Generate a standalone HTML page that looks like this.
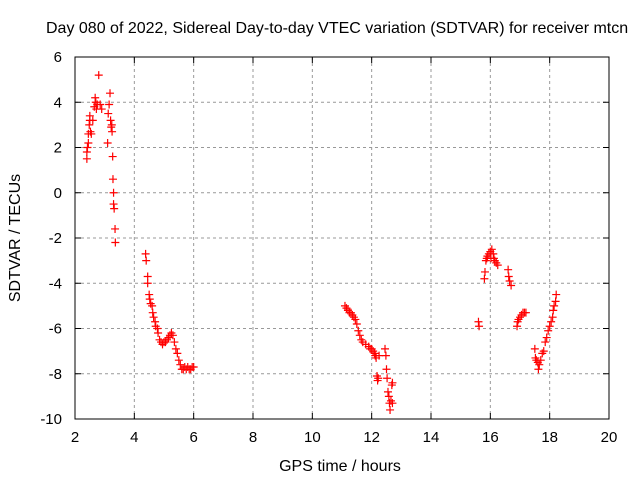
<!DOCTYPE html>
<html><head><meta charset="utf-8"><style>
body{margin:0;background:#fff}
svg{display:block;font-family:"Liberation Sans",sans-serif}
</style></head><body>
<svg id="chart" width="640" height="480" xmlns="http://www.w3.org/2000/svg">
<rect width="640" height="480" fill="#fff"/>
<text x="46" y="33" font-size="16">Day 080 of 2022, Sidereal Day-to-day VTEC variation (SDTVAR) for receiver mtcn</text>
<g id="grid"></g><g id="ticks"></g><g id="marks"></g>
<rect x="75" y="57" width="534" height="362" fill="none" stroke="#000" stroke-width="1"/>
<text x="340" y="471" font-size="16" text-anchor="middle">GPS time / hours</text>
<text transform="translate(20,238) rotate(-90)" font-size="16" text-anchor="middle">SDTVAR / TECUs</text>
</svg>
<script>
const xTicks=[2,4,6,8,10,12,14,16,18,20];
const yTicks=[6,4,2,0,-2,-4,-6,-8,-10];
const times=[2.4,2.4,2.42,2.45,2.45,2.48,2.5,2.5,2.52,2.55,2.6,2.65,2.68,2.7,2.72,2.75,2.8,2.85,2.9,
3.1,3.12,3.15,3.18,3.2,3.22,3.24,3.25,3.27,3.28,3.3,3.3,3.32,3.35,3.36,
4.38,4.4,4.45,4.45,4.5,4.52,4.55,4.6,4.62,4.65,4.7,4.72,4.78,4.8,4.85,4.9,4.95,5.0,5.05,5.1,5.15,5.2,5.25,5.3,5.35,5.4,5.45,5.5,5.55,5.6,5.65,5.7,5.75,5.8,5.85,5.9,5.95,6.0,
11.1,11.15,11.2,11.25,11.3,11.35,11.4,11.45,11.5,11.55,11.6,11.65,11.7,11.8,11.9,11.95,12.0,12.05,12.1,12.12,12.15,12.18,12.2,12.22,12.25,12.45,12.48,12.5,12.52,12.55,12.58,12.6,12.62,12.65,12.68,12.7,12.7,
15.6,15.62,15.8,15.82,15.85,15.88,15.9,15.95,16.0,16.02,16.05,16.1,16.12,16.15,16.2,16.25,16.6,16.62,16.65,16.7,16.9,16.92,16.95,17.0,17.05,17.1,17.15,17.2,17.5,17.52,17.55,17.6,17.62,17.65,17.7,17.75,17.8,17.85,17.9,17.95,18.0,18.05,18.1,18.12,18.15,18.2,18.22];
const values=[1.5,1.8,2.0,2.2,2.6,3.0,3.2,3.4,2.7,2.6,3.2,3.8,4.2,4.0,3.7,3.9,5.2,3.9,3.7,
2.2,3.5,3.9,4.4,3.2,2.9,3.0,2.7,1.6,0.6,0.0,-0.5,-0.7,-1.6,-2.2,
-2.7,-3.0,-3.7,-4.0,-4.5,-4.7,-4.9,-5.0,-5.3,-5.5,-5.7,-5.9,-6.0,-6.2,-6.5,-6.6,-6.7,-6.6,-6.6,-6.5,-6.4,-6.3,-6.2,-6.3,-6.6,-6.9,-7.1,-7.4,-7.6,-7.8,-7.8,-7.7,-7.8,-7.7,-7.8,-7.8,-7.7,-7.7,
-5.0,-5.1,-5.2,-5.3,-5.3,-5.4,-5.5,-5.6,-5.8,-6.1,-6.3,-6.5,-6.6,-6.7,-6.8,-6.9,-6.9,-7.0,-7.1,-7.2,-7.3,-8.1,-8.3,-8.2,-7.2,-6.9,-7.2,-7.8,-8.2,-8.8,-9.0,-9.3,-9.6,-9.2,-8.5,-9.3,-8.4,
-5.7,-5.9,-3.8,-3.5,-3.0,-2.9,-2.8,-2.7,-2.6,-2.9,-2.5,-2.7,-2.9,-3.0,-3.1,-3.2,-3.4,-3.7,-3.9,-4.1,-5.9,-5.7,-5.6,-5.5,-5.4,-5.3,-5.3,-5.3,-6.9,-7.3,-7.4,-7.5,-7.8,-7.6,-7.4,-7.1,-7.0,-6.6,-6.4,-6.1,-5.9,-5.7,-5.5,-5.2,-5.0,-4.8,-4.5];
const NS='http://www.w3.org/2000/svg';
const X0=75,X1=609,Y0=419,Y1=57;
const xs=v=>X0+(v-2)/18*(X1-X0);
const ys=v=>Y0-(v+10)/16*(Y0-Y1);
function mk(t,a,p){const e=document.createElementNS(NS,t);for(const k in a)e.setAttribute(k,a[k]);p.appendChild(e);return e;}
const grid=document.getElementById('grid'),ticks=document.getElementById('ticks'),marks=document.getElementById('marks');
xTicks.forEach(t=>{const x=xs(t);
 if(t>2&&t<20){const g=mk('line',{x1:x,x2:x,y1:Y1,y2:Y0,stroke:'#999','stroke-dasharray':'3,3'},grid);
 
 }
 mk('line',{x1:x,x2:x,y1:Y0,y2:Y0-6,stroke:'#000'},ticks);
 mk('line',{x1:x,x2:x,y1:Y1,y2:Y1+6,stroke:'#000'},ticks);
 const l=mk('text',{x:x,y:Y0+23,'font-size':15,'text-anchor':'middle'},ticks);l.textContent=t;
 
 });
yTicks.forEach(t=>{const y=ys(t);
 if(t>-10&&t<6){const g=mk('line',{x1:X0,x2:X1,y1:y,y2:y,stroke:'#999','stroke-dasharray':'3,3'},grid);
 
 }
 mk('line',{x1:X0,x2:X0+6,y1:y,y2:y,stroke:'#000'},ticks);
 mk('line',{x1:X1,x2:X1-6,y1:y,y2:y,stroke:'#000'},ticks);
 const l=mk('text',{x:X0-13,y:y+5,'font-size':15,'text-anchor':'end'},ticks);l.textContent=t;
 
 });
times.forEach((t,i)=>{const x=xs(t),y=ys(values[i]);
 const p=mk('path',{d:`M${x-4},${y}H${x+4}M${x},${y-4}V${y+4}`,stroke:'#f00','stroke-width':1.2,fill:'none'},marks);
 
 });
</script>
</body></html>
